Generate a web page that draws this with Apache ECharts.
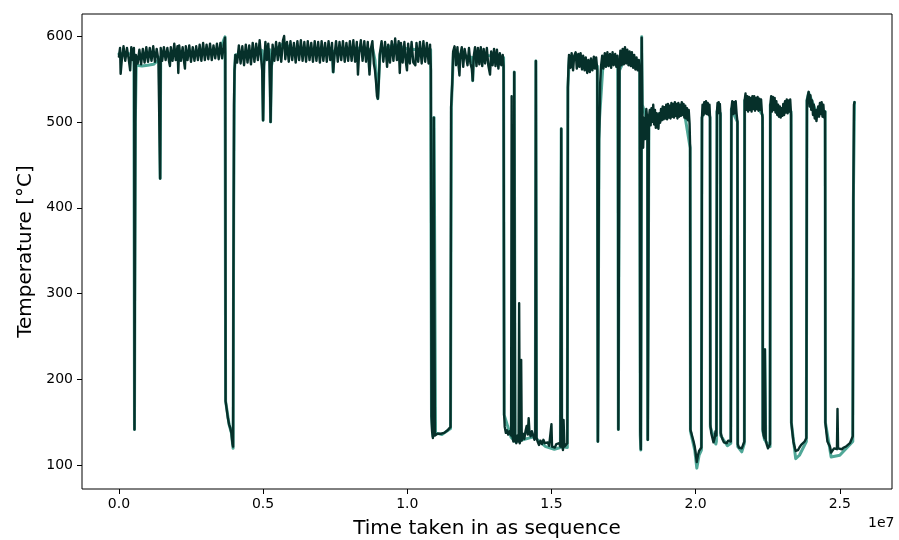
<!DOCTYPE html>
<html><head><meta charset="utf-8">
<script src="https://cdn.jsdelivr.net/npm/echarts@6/dist/echarts.min.js"></script>
<style>html,body{margin:0;padding:0;background:#fff}#chart{width:899px;height:540px}</style>
</head><body><div id="chart"></div>
<script>
// tick values (x in units of 1e7)
const xTicks = [0, 0.5, 1, 1.5, 2, 2.5];
const yTicks = [100, 200, 300, 400, 500, 600];

// dark series: time (1e7) and temperature
const timeA = [
0.000,0.004,0.006,0.010,0.016,0.022,0.028,0.034,0.039,0.043,
0.048,0.052,0.053,0.054,0.056,0.057,0.059,0.065,0.071,0.077,
0.083,0.089,0.095,0.101,0.107,0.113,0.119,0.125,0.131,0.137,
0.141,0.143,0.145,0.150,0.156,0.162,0.168,0.174,0.177,0.180,
0.186,0.192,0.197,0.203,0.206,0.209,0.215,0.221,0.226,0.229,
0.232,0.238,0.244,0.250,0.256,0.262,0.268,0.274,0.280,0.286,
0.292,0.298,0.304,0.310,0.316,0.322,0.328,0.334,0.340,0.346,
0.352,0.358,0.364,0.368,0.369,0.370,0.374,0.378,0.382,0.386,
0.390,0.394,0.396,0.397,0.398,0.399,0.401,0.404,0.410,0.416,
0.422,0.428,0.434,0.440,0.446,0.452,0.458,0.464,0.470,0.476,
0.482,0.488,0.494,0.497,0.500,0.503,0.508,0.513,0.518,0.522,
0.524,0.526,0.529,0.533,0.539,0.545,0.551,0.557,0.563,0.569,
0.573,0.577,0.583,0.589,0.595,0.601,0.607,0.613,0.619,0.625,
0.631,0.637,0.643,0.649,0.655,0.661,0.667,0.673,0.679,0.685,
0.691,0.697,0.703,0.709,0.715,0.721,0.727,0.733,0.739,0.743,
0.747,0.753,0.759,0.765,0.771,0.777,0.783,0.789,0.795,0.801,
0.807,0.813,0.819,0.825,0.829,0.833,0.839,0.845,0.851,0.857,
0.863,0.869,0.873,0.879,0.884,0.888,0.892,0.895,0.898,0.901,
0.905,0.911,0.917,0.923,0.930,0.934,0.940,0.946,0.952,0.958,
0.964,0.970,0.974,0.978,0.984,0.990,0.995,0.999,1.003,1.009,
1.015,1.021,1.028,1.032,1.038,1.044,1.050,1.056,1.062,1.068,
1.074,1.079,1.082,1.084,1.086,1.089,1.092,1.094,1.096,1.100,
1.105,1.110,1.116,1.122,1.128,1.134,1.140,1.146,1.150,1.152,
1.156,1.159,1.164,1.169,1.174,1.178,1.181,1.184,1.189,1.194,
1.199,1.204,1.209,1.214,1.219,1.224,1.227,1.230,1.235,1.240,
1.245,1.250,1.255,1.260,1.265,1.270,1.276,1.281,1.287,1.291,
1.296,1.301,1.306,1.311,1.316,1.321,1.326,1.331,1.334,1.336,
1.338,1.342,1.346,1.350,1.355,1.360,1.362,1.364,1.368,1.371,
1.374,1.378,1.382,1.386,1.388,1.390,1.393,1.395,1.397,1.401,
1.406,1.410,1.414,1.418,1.421,1.424,1.428,1.432,1.436,1.441,
1.444,1.446,1.448,1.452,1.457,1.462,1.467,1.472,1.477,1.482,
1.487,1.492,1.497,1.500,1.502,1.507,1.512,1.517,1.522,1.527,
1.531,1.534,1.536,1.540,1.542,1.545,1.550,1.555,1.557,1.559,
1.561,1.566,1.570,1.575,1.579,1.584,1.588,1.593,1.597,1.601,
1.606,1.610,1.615,1.619,1.624,1.628,1.633,1.637,1.642,1.647,
1.651,1.655,1.659,1.661,1.663,1.665,1.667,1.669,1.672,1.676,
1.680,1.685,1.689,1.694,1.698,1.703,1.707,1.712,1.716,1.721,
1.725,1.729,1.731,1.732,1.734,1.736,1.739,1.743,1.747,1.751,
1.755,1.759,1.763,1.767,1.771,1.775,1.779,1.783,1.787,1.791,
1.795,1.799,1.803,1.806,1.808,1.810,1.813,1.815,1.818,1.821,
1.825,1.829,1.833,1.834,1.836,1.838,1.841,1.844,1.847,1.850,
1.853,1.856,1.859,1.862,1.865,1.868,1.871,1.874,1.877,1.880,
1.883,1.886,1.889,1.892,1.895,1.898,1.901,1.904,1.907,1.910,
1.913,1.916,1.919,1.922,1.925,1.928,1.931,1.934,1.937,1.940,
1.943,1.946,1.949,1.952,1.955,1.958,1.961,1.964,1.967,1.970,
1.973,1.976,1.979,1.981,1.982,1.985,1.989,1.993,1.997,2.001,
2.004,2.008,2.012,2.016,2.020,2.022,2.024,2.027,2.030,2.033,
2.036,2.039,2.042,2.045,2.048,2.050,2.051,2.054,2.058,2.062,
2.066,2.069,2.072,2.074,2.076,2.078,2.080,2.082,2.084,2.086,
2.087,2.090,2.094,2.098,2.103,2.108,2.113,2.118,2.122,2.124,
2.127,2.130,2.133,2.136,2.139,2.142,2.145,2.146,2.150,2.155,
2.160,2.165,2.169,2.170,2.173,2.176,2.179,2.182,2.185,2.188,
2.191,2.194,2.197,2.200,2.203,2.206,2.209,2.212,2.215,2.218,
2.221,2.224,2.227,2.230,2.232,2.233,2.236,2.239,2.240,2.242,
2.243,2.247,2.251,2.255,2.258,2.259,2.262,2.265,2.268,2.271,
2.274,2.277,2.280,2.283,2.286,2.289,2.292,2.295,2.298,2.301,
2.304,2.307,2.310,2.313,2.316,2.319,2.322,2.325,2.328,2.331,
2.332,2.335,2.339,2.343,2.347,2.351,2.355,2.360,2.366,2.372,
2.378,2.384,2.386,2.389,2.392,2.395,2.398,2.401,2.404,2.407,
2.410,2.413,2.416,2.419,2.422,2.425,2.428,2.431,2.434,2.437,
2.440,2.443,2.446,2.449,2.450,2.453,2.457,2.461,2.466,2.470,
2.475,2.480,2.485,2.490,2.492,2.494,2.500,2.507,2.514,2.521,
2.528,2.535,2.541,2.545,2.547,2.549,2.551
];
const tempA = [
576,586,556,572,588,571,586,573,560,587,
572,586,560,142,142,500,578,568,584,567,
585,569,587,570,586,571,588,570,585,572,
570,434,586,571,587,572,586,570,565,587,
571,591,572,588,557,589,571,587,570,562,
588,572,589,570,587,571,588,572,590,571,
592,572,590,573,591,572,589,574,591,573,
592,574,590,598,580,175,165,155,148,144,
138,125,122,300,395,520,560,578,569,589,
568,588,566,590,569,589,567,592,570,591,
572,595,571,560,502,565,593,572,591,570,
540,500,560,590,571,593,572,592,570,595,
600,573,593,570,594,572,592,569,594,572,
595,571,593,570,594,572,592,570,594,571,
593,569,594,571,592,570,594,572,592,558,
575,594,570,593,572,594,570,592,571,594,
571,595,570,593,555,580,595,571,594,570,
593,555,584,594,568,560,545,530,527,545,
580,594,570,593,564,590,569,594,571,597,
572,594,557,592,569,593,570,560,591,568,
593,569,566,592,570,593,568,594,570,592,
568,590,560,157,140,132,505,505,135,133,
137,135,137,139,138,140,141,143,145,517,
545,582,588,566,587,565,554,578,587,564,
585,587,566,586,568,562,548,575,587,565,
586,567,587,565,585,568,586,566,555,582,
566,585,565,584,562,580,566,578,565,159,
145,138,141,136,140,135,530,135,128,558,
130,126,135,128,289,126,131,223,129,137,
131,140,146,136,155,138,134,140,136,130,
134,571,133,128,124,129,125,130,126,124,
127,123,125,148,122,124,121,125,123,126,
122,492,125,118,153,122,124,126,540,565,
578,563,580,560,577,581,562,579,564,580,
561,577,560,575,557,572,558,574,560,576,
562,575,560,128,128,480,505,545,565,577,
562,580,564,581,565,579,563,581,566,579,
564,577,560,142,142,560,583,566,585,567,
587,568,584,566,582,565,581,563,578,561,
575,560,572,560,140,119,598,520,470,505,
480,515,500,130,130,505,514,496,516,500,
520,497,514,493,510,496,492,510,499,515,
502,518,503,517,504,520,503,521,505,519,
504,522,506,521,505,523,507,521,504,522,
506,520,507,523,508,521,505,519,504,516,
502,514,498,470,142,138,133,128,122,112,
104,112,117,115,121,505,520,508,523,510,
524,509,522,508,520,505,148,138,140,127,
132,140,135,512,522,510,523,511,521,508,
138,134,130,127,128,126,129,127,128,515,
524,509,523,510,524,510,500,125,121,119,
120,122,128,525,533,514,530,512,529,514,
528,512,530,515,530,513,528,515,529,513,
527,514,526,510,505,142,135,132,235,234,
130,124,120,122,125,520,530,512,529,514,
528,511,524,508,520,506,518,505,516,507,
521,508,524,511,526,510,525,512,526,508,
150,140,128,122,117,115,118,121,124,126,
128,132,525,530,535,518,531,514,525,508,
520,504,514,501,511,518,506,522,509,523,
506,520,505,512,150,140,128,126,122,115,
117,120,121,119,166,120,118,119,121,122,
124,126,128,134,410,520,523
];

// teal series: time (1e7) and temperature
const timeB = [
0.000,0.020,0.040,0.052,0.054,0.056,0.057,0.060,0.080,0.100,
0.120,0.140,0.143,0.145,0.170,0.195,0.220,0.250,0.290,0.320,
0.350,0.368,0.370,0.382,0.390,0.396,0.398,0.401,0.404,0.430,
0.460,0.490,0.497,0.500,0.503,0.510,0.523,0.526,0.529,0.540,
0.573,0.600,0.630,0.660,0.700,0.740,0.743,0.747,0.760,0.800,
0.840,0.866,0.869,0.872,0.880,0.888,0.898,0.905,0.910,0.958,
1.000,1.040,1.070,1.081,1.084,1.089,1.093,1.096,1.098,1.120,
1.150,1.153,1.160,1.190,1.224,1.227,1.230,1.240,1.270,1.300,
1.334,1.336,1.360,1.368,1.371,1.374,1.400,1.444,1.446,1.448,
1.480,1.510,1.531,1.534,1.536,1.555,1.557,1.562,1.600,1.640,
1.659,1.661,1.663,1.665,1.667,1.680,1.720,1.730,1.732,1.736,
1.760,1.800,1.806,1.808,1.810,1.813,1.815,1.833,1.834,1.838,
1.880,1.920,1.960,1.981,1.982,1.997,2.004,2.012,2.020,2.022,
2.040,2.050,2.051,2.070,2.072,2.074,2.086,2.087,2.110,2.122,
2.124,2.145,2.146,2.160,2.169,2.170,2.200,2.232,2.233,2.239,
2.240,2.242,2.243,2.258,2.259,2.300,2.331,2.332,2.347,2.360,
2.384,2.386,2.392,2.420,2.449,2.450,2.470,2.500,2.545,2.547,
2.551
];
const tempB = [
579,580,579,579,142,142,500,566,565,566,
567,573,434,576,579,582,579,580,583,582,
584,599,175,148,138,120,395,560,578,580,
582,584,583,502,568,585,584,500,565,584,
592,584,585,584,584,583,558,582,584,585,
586,585,560,584,585,572,527,578,584,590,
585,584,584,584,158,134,505,503,138,136,
143,517,580,578,575,548,575,578,578,576,
575,159,133,130,558,128,130,134,571,131,
122,119,121,492,122,121,540,575,572,568,
565,128,128,480,505,573,574,572,142,560,
578,570,565,135,118,599,520,500,130,505,
510,514,513,470,140,118,97,112,118,505,
518,505,145,125,128,512,510,135,123,126,
515,500,122,116,126,525,524,508,140,130,
235,234,128,122,520,515,512,150,108,112,
128,525,534,510,512,150,110,112,128,410,
523
];

function pairs(t, v) { return t.map(function (x, i) { return [x, v[i]]; }); }

const chart = echarts.init(document.getElementById('chart'), null, { renderer: 'canvas' });
const font = 'DejaVu Sans';
chart.setOption({
  animation: false,
  backgroundColor: '#ffffff',
  grid: { left: 82, right: 7, top: 14, bottom: 51, show: true, borderColor: '#000', borderWidth: 1,
          backgroundColor: 'transparent', containLabel: false, outerBoundsMode: 'none' },
  xAxis: {
    type: 'value', min: -0.128, max: 2.681,
    name: 'Time taken in as sequence', nameLocation: 'middle', nameGap: 30,
    nameTextStyle: { fontSize: 20, fontFamily: font, color: '#000' },
    axisLine: { show: false, onZero: false }, splitLine: { show: false },
    axisTick: { show: true, length: 5, inside: false, customValues: xTicks, lineStyle: { color: '#000', width: 1 } },
    axisLabel: { customValues: xTicks, formatter: function (v) { return v.toFixed(1); }, fontSize: 14, fontFamily: font, color: '#000', margin: 8 }
  },
  yAxis: {
    type: 'value', min: 72.7, max: 625.6,
    name: 'Temperature [°C]', nameLocation: 'middle', nameGap: 44,
    nameTextStyle: { fontSize: 20, fontFamily: font, color: '#000' },
    axisLine: { show: false, onZero: false }, splitLine: { show: false },
    axisTick: { show: true, length: 5, inside: false, customValues: yTicks, lineStyle: { color: '#000', width: 1 } },
    axisLabel: { customValues: yTicks, fontSize: 14, fontFamily: font, color: '#000', margin: 9 }
  },
  series: [
    { type: 'line', data: pairs(timeB, tempB), showSymbol: false, symbol: 'none', silent: true, z: 2,
      lineStyle: { color: '#4fa797', width: 3, join: 'round', cap: 'round' } },
    { type: 'line', data: pairs(timeA, tempA), showSymbol: false, symbol: 'none', silent: true, z: 3,
      lineStyle: { color: '#06302a', width: 2.4, join: 'round', cap: 'round' } }
  ],
  graphic: [
    { type: 'text', left: 868, top: 516, style: { text: '1e7', fontSize: 14, fontFamily: font, fill: '#000' } }
  ]
});
</script>
</body></html>
